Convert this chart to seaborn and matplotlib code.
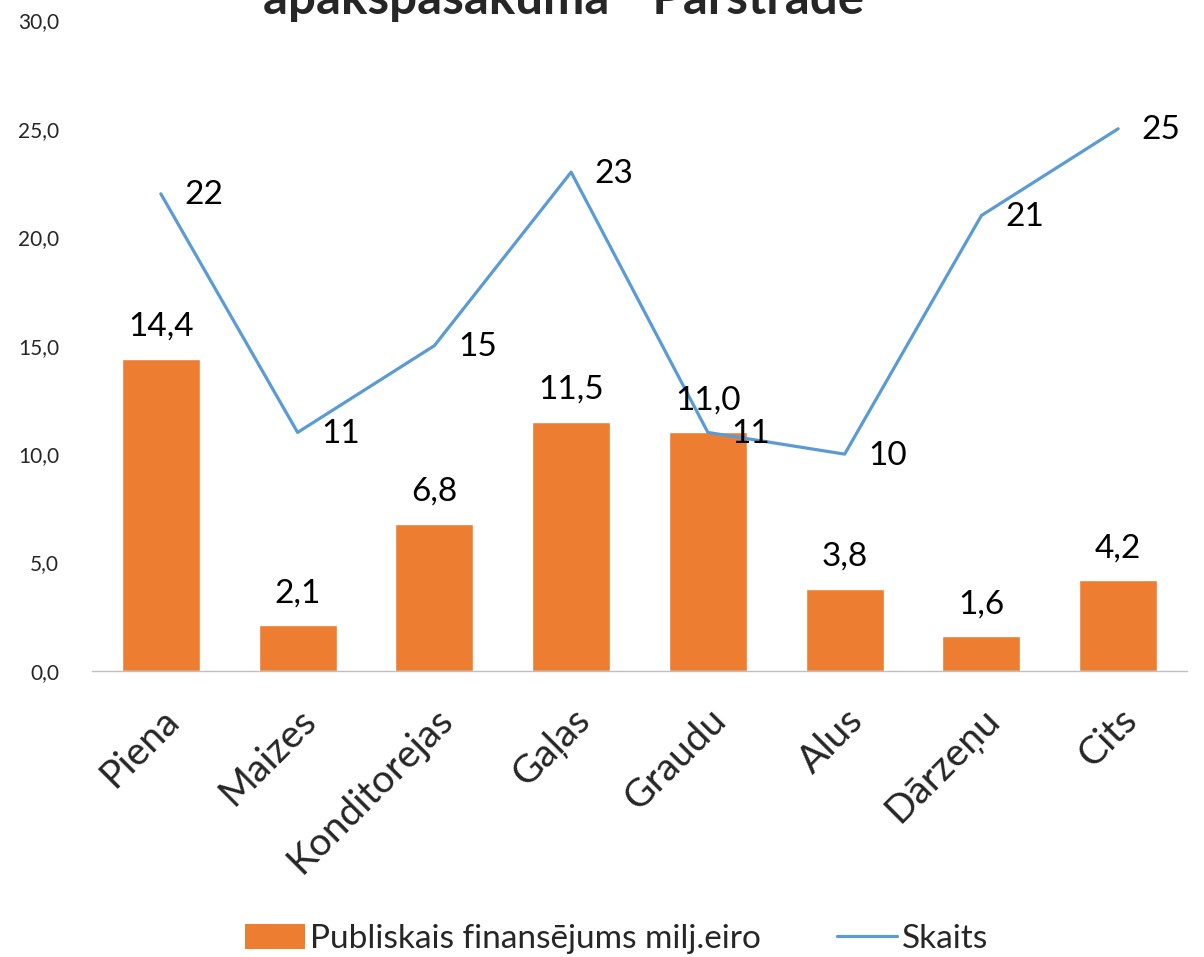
import matplotlib
matplotlib.use("Agg")
import matplotlib.pyplot as plt
import seaborn as sns
import pandas as pd
from matplotlib.ticker import FuncFormatter, MultipleLocator
from matplotlib.patches import Patch
from matplotlib.lines import Line2D

categories = ["Piena", "Maizes", "Konditorejas", "Gaļas", "Graudu", "Alus", "Dārzeņu", "Cits"]
funding = [14.4, 2.1, 6.8, 11.5, 11.0, 3.8, 1.6, 4.2]
counts = [22, 11, 15, 23, 11, 10, 21, 25]
bar_label = "Publiskais finansējums milj.eiro"
line_label = "Skaits"
title = "apakšpasākumā \u201c Pārstrāde\u201d"

sns.set_theme(style="white")
plt.rcParams['font.family'] = ['Lato', 'DejaVu Sans']

ORANGE = "#ED7D31"
BLUE = "#5B9BD5"

df = pd.DataFrame({"cat": categories, "funding": funding, "counts": counts})

fig = plt.figure(figsize=(12.04, 9.57), dpi=100)
ax = fig.add_axes([0.0768, 0.2988, 0.9087, 0.680])

sns.barplot(data=df, x="cat", y="funding", color=ORANGE, width=0.57, saturation=1, ax=ax)
sns.lineplot(data=df, x="cat", y="counts", color=BLUE, linewidth=2.3, ax=ax, sort=False)

for i, v in enumerate(funding):
    ax.annotate(f"{v:.1f}".replace(".", ","), (i, v), xytext=(0, 12), textcoords="offset points",
                ha="center", va="bottom", fontsize=24, color="black")
for i, v in enumerate(counts):
    ax.annotate(f"{v}", (i, v), xytext=(31, -1), textcoords="offset points",
                ha="center", va="center", fontsize=24, color="black")

ax.set_ylim(0, 30)
ax.set_xlim(-0.5, len(categories) - 0.5)
ax.yaxis.set_major_locator(MultipleLocator(5))
ax.yaxis.set_major_formatter(FuncFormatter(lambda v, p: f"{v:.1f}".replace(".", ",")))
ax.set_xlabel("")
ax.set_ylabel("")
ax.tick_params(axis="y", labelsize=15, length=0, pad=24)
ax.tick_params(axis="x", labelsize=28, length=0, pad=22)
plt.setp(ax.get_xticklabels(), rotation=45, ha="right", rotation_mode="anchor")
for s in ["top", "right", "left"]:
    ax.spines[s].set_visible(False)
ax.spines["bottom"].set_color("#BFBFBF")
ax.spines["bottom"].set_linewidth(1)
ax.grid(False)

handles = [Patch(facecolor=ORANGE, edgecolor="none"), Line2D([0], [0], color=BLUE, linewidth=2.3)]
fig.legend(handles, [bar_label, line_label], loc="center", bbox_to_anchor=(0.512, 0.019),
           ncol=2, frameon=False, fontsize=24, handlelength=1.8, handleheight=0.8,
           columnspacing=2.3, handletextpad=0.15)

fig.text(0.476, 0.985, title, ha="center", va="baseline", fontsize=35.5, fontweight="bold")

fig.savefig("out.png", dpi=100)
